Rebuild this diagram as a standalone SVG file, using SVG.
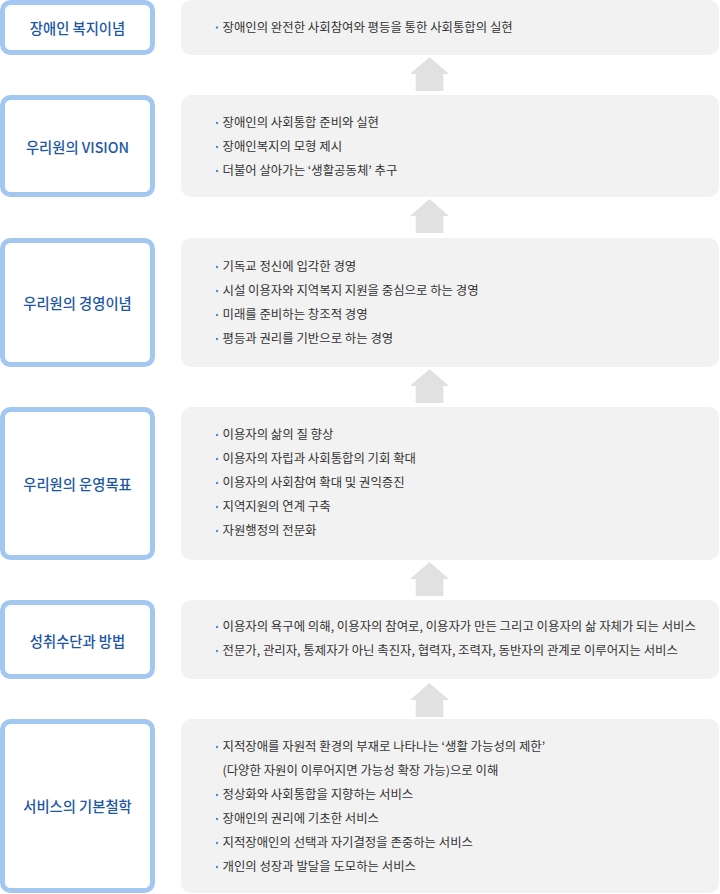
<svg xmlns="http://www.w3.org/2000/svg" width="720" height="894" viewBox="0 0 720 894">
<defs>
<style>
.lbox{fill:#ffffff;stroke:#a3c7f1;stroke-width:5}
.rbox{fill:#f2f2f2}
.lbl{font-family:"Noto Sans CJK KR","Liberation Sans",sans-serif;font-size:14.3px;font-weight:500;fill:#1c57a5;text-anchor:middle;dominant-baseline:central}
.txt{font-family:"Noto Sans CJK KR","Liberation Sans",sans-serif;font-size:12.4px;fill:#333333;dominant-baseline:central}
.dot{fill:#4a8fd8}
.arr{fill:#e1e1e1}
</style>
<path id="arrow" d="M429.5,57 L449,74 L443.3,74 L443.3,91 L415.7,91 L415.7,74 L410,74 Z"/>
</defs>
<rect width="720" height="894" fill="#ffffff"/>

<g id="connectors" class="arr">
<use href="#arrow"/>
<use href="#arrow" transform="translate(0,142)"/>
<use href="#arrow" transform="translate(0,312)"/>
<use href="#arrow" transform="translate(0,505)"/>
<use href="#arrow" transform="translate(0,626)"/>
</g>

<g id="node1">
<rect class="lbox" x="2.5" y="2.5" width="150" height="50" rx="8"/>
<text class="lbl" x="77.5" y="27.5">장애인 복지이념</text>
<rect class="rbox" x="181" y="0" width="538" height="55" rx="10"/>
<circle class="dot" cx="217" cy="27.5" r="1.2"/>
<text class="txt" x="222.5" y="26.5">장애인의 완전한 사회참여와 평등을 통한 사회통합의 실현</text>
</g>

<g id="node2">
<rect class="lbox" x="2.5" y="97.5" width="150" height="97" rx="8"/>
<text class="lbl" x="77.5" y="146">우리원의 VISION</text>
<rect class="rbox" x="181" y="95" width="538" height="102" rx="10"/>
<circle class="dot" cx="217" cy="123" r="1.2"/>
<text class="txt" x="222.5" y="122">장애인의 사회통합 준비와 실현</text>
<circle class="dot" cx="217" cy="147" r="1.2"/>
<text class="txt" x="222.5" y="146">장애인복지의 모형 제시</text>
<circle class="dot" cx="217" cy="171" r="1.2"/>
<text class="txt" x="222.5" y="170">더불어 살아가는 ‘생활공동체’ 추구</text>
</g>

<g id="node3">
<rect class="lbox" x="2.5" y="240.5" width="150" height="124" rx="8"/>
<text class="lbl" x="77.5" y="302">우리원의 경영이념</text>
<rect class="rbox" x="181" y="238" width="538" height="129" rx="10"/>
<circle class="dot" cx="217" cy="267" r="1.2"/>
<text class="txt" x="222.5" y="266">기독교 정신에 입각한 경영</text>
<circle class="dot" cx="217" cy="291" r="1.2"/>
<text class="txt" x="222.5" y="290">시설 이용자와 지역복지 지원을 중심으로 하는 경영</text>
<circle class="dot" cx="217" cy="315" r="1.2"/>
<text class="txt" x="222.5" y="314">미래를 준비하는 창조적 경영</text>
<circle class="dot" cx="217" cy="339" r="1.2"/>
<text class="txt" x="222.5" y="338">평등과 권리를 기반으로 하는 경영</text>
</g>

<g id="node4">
<rect class="lbox" x="2.5" y="409.5" width="150" height="148" rx="8"/>
<text class="lbl" x="77.5" y="483">우리원의 운영목표</text>
<rect class="rbox" x="181" y="407" width="538" height="153" rx="10"/>
<circle class="dot" cx="217" cy="435" r="1.2"/>
<text class="txt" x="222.5" y="434">이용자의 삶의 질 향상</text>
<circle class="dot" cx="217" cy="459" r="1.2"/>
<text class="txt" x="222.5" y="458">이용자의 자립과 사회통합의 기회 확대</text>
<circle class="dot" cx="217" cy="483" r="1.2"/>
<text class="txt" x="222.5" y="482">이용자의 사회참여 확대 및 권익증진</text>
<circle class="dot" cx="217" cy="507" r="1.2"/>
<text class="txt" x="222.5" y="506">지역지원의 연계 구축</text>
<circle class="dot" cx="217" cy="531" r="1.2"/>
<text class="txt" x="222.5" y="530">자원행정의 전문화</text>
</g>

<g id="node5">
<rect class="lbox" x="2.5" y="602.5" width="150" height="74" rx="8"/>
<text class="lbl" x="77.5" y="640">성취수단과 방법</text>
<rect class="rbox" x="181" y="600" width="538" height="79" rx="10"/>
<circle class="dot" cx="217" cy="627" r="1.2"/>
<text class="txt" x="222.5" y="626">이용자의 욕구에 의해, 이용자의 참여로, 이용자가 만든 그리고 이용자의 삶 자체가 되는 서비스</text>
<circle class="dot" cx="217" cy="651" r="1.2"/>
<text class="txt" x="222.5" y="650">전문가, 관리자, 통제자가 아닌 촉진자, 협력자, 조력자, 동반자의 관계로 이루어지는 서비스</text>
</g>

<g id="node6">
<rect class="lbox" x="2.5" y="721.5" width="150" height="169" rx="8"/>
<text class="lbl" x="77.5" y="805.5">서비스의 기본철학</text>
<rect class="rbox" x="181" y="719" width="538" height="174" rx="10"/>
<circle class="dot" cx="217" cy="747" r="1.2"/>
<text class="txt" x="222.5" y="746">지적장애를 자원적 환경의 부재로 나타나는 ‘생활 가능성의 제한’</text>
<text class="txt" x="222.5" y="770">(다양한 자원이 이루어지면 가능성 확장 가능)으로 이해</text>
<circle class="dot" cx="217" cy="795" r="1.2"/>
<text class="txt" x="222.5" y="794">정상화와 사회통합을 지향하는 서비스</text>
<circle class="dot" cx="217" cy="819" r="1.2"/>
<text class="txt" x="222.5" y="818">장애인의 권리에 기초한 서비스</text>
<circle class="dot" cx="217" cy="843" r="1.2"/>
<text class="txt" x="222.5" y="842">지적장애인의 선택과 자기결정을 존중하는 서비스</text>
<circle class="dot" cx="217" cy="867" r="1.2"/>
<text class="txt" x="222.5" y="866">개인의 성장과 발달을 도모하는 서비스</text>
</g>
</svg>
